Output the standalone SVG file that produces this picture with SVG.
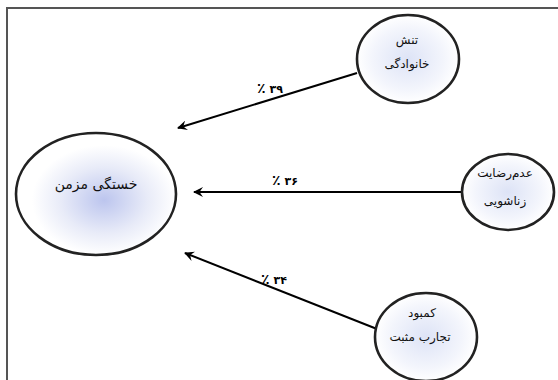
<svg xmlns="http://www.w3.org/2000/svg" width="558" height="380" viewBox="0 0 558 380">
<defs>
<radialGradient id="gBig" cx="0.55" cy="0.55" r="0.45">
<stop offset="0" stop-color="#bcc5ee"/>
<stop offset="0.6" stop-color="#e8ebf8"/>
<stop offset="1" stop-color="#ffffff"/>
</radialGradient>
<radialGradient id="gSmall" cx="0.5" cy="0.5" r="0.5">
<stop offset="0" stop-color="#dde3f6"/>
<stop offset="0.7" stop-color="#f3f5fc"/>
<stop offset="1" stop-color="#ffffff"/>
</radialGradient>
<marker id="arr" viewBox="0 0 10 10" refX="9" refY="5" markerWidth="5" markerHeight="5" orient="auto" markerUnits="strokeWidth">
<path d="M10,5 L0,0 L3.5,5 L0,10 Z" fill="#000"/>
</marker>
<style>
.node{stroke:#222;stroke-width:2.6}
.lbl{font-family:"DejaVu Sans",sans-serif;font-size:12px;fill:#111;text-anchor:middle}
.big{font-size:14px}
.pct{font-family:"DejaVu Sans",sans-serif;font-size:11px;font-weight:bold;fill:#000;text-anchor:middle;direction:ltr;unicode-bidi:bidi-override}
.ps{font-size:14px}
.conn{stroke:#000;stroke-width:2;fill:none}
</style>
</defs>
<rect x="0" y="0" width="558" height="380" fill="#fff"/>
<path d="M7,380 V8 H558" fill="none" stroke="#555" stroke-width="2"/>
<g id="connectors">
<line class="conn" x1="357" y1="73" x2="178" y2="128" marker-end="url(#arr)"/>
<line class="conn" x1="462" y1="192" x2="194" y2="192" marker-end="url(#arr)"/>
<line class="conn" x1="377" y1="329" x2="185" y2="253" marker-end="url(#arr)"/>
<text class="pct" x="270" y="93"><tspan class="ps">٪</tspan> ۳۹</text>
<text class="pct" x="285" y="185"><tspan class="ps">٪</tspan> ۳۶</text>
<text class="pct" x="274" y="284"><tspan class="ps">٪</tspan> ۳۴</text>
</g>
<g id="node-fatigue">
<ellipse class="node" cx="96" cy="194" rx="80" ry="61" fill="url(#gBig)"/>
<text class="lbl big" x="96" y="189">خستگی مزمن</text>
</g>
<g id="node-family-tension">
<ellipse class="node" cx="408" cy="59" rx="51" ry="44" fill="url(#gSmall)"/>
<text class="lbl" x="407" y="44">تنش</text>
<text class="lbl" x="407" y="68">خانوادگی</text>
</g>
<g id="node-marital">
<ellipse class="node" cx="508" cy="192" rx="46" ry="38" fill="url(#gSmall)"/>
<text class="lbl" x="505" y="177">عدم‌رضایت</text>
<text class="lbl" x="505" y="205">زناشویی</text>
</g>
<g id="node-positive">
<ellipse class="node" cx="426" cy="337" rx="51" ry="44" fill="url(#gSmall)"/>
<text class="lbl" x="422" y="317">کمبود</text>
<text class="lbl" x="420" y="341">تجارب مثبت</text>
</g>
</svg>
